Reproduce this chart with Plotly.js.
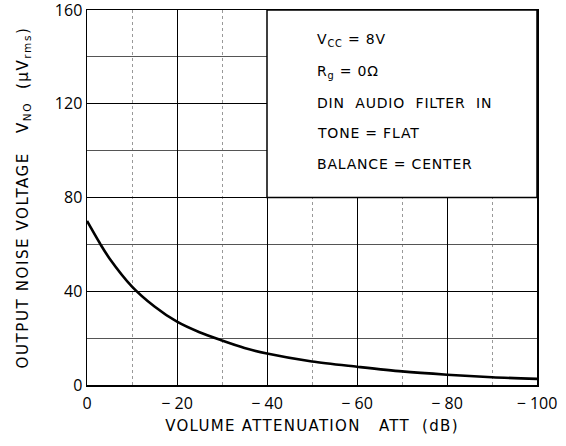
<!DOCTYPE html>
<html><head><meta charset="utf-8">
<script src="https://cdn.plot.ly/plotly-3.0.1.min.js"></script>
<style>
body{margin:0;background:#fff}#c{width:566px;height:446px}
.xtitle{letter-spacing:1.3px}
.ytitle{letter-spacing:1.6px}
.annotation-text{letter-spacing:0.8px}
</style>
</head><body><div id="c"></div>
<script>
// Volume attenuation (dB) and output noise voltage (µVrms)
const attenuation = [0, -3, -5, -10, -15, -20, -25, -30, -35, -40, -50, -60, -70, -80, -90, -100];
const noiseVoltage = [70, 60, 54, 42, 33.5, 27, 22.5, 19, 15.8, 13.4, 10, 7.8, 5.8, 4.4, 3.3, 2.6];
const xTickVals = [0, -20, -40, -60, -80, -100];
const xTickText = ["0", "− 20", "− 40", "− 60", "− 80", "− 100"];
const yTickVals = [0, 40, 80, 120, 160];
const yTickText = ["0", "40", "80", "120", "160"];
const conditions = ["V<sub>CC</sub> = 8V", "R<sub>g</sub> = 0Ω", "DIN  AUDIO  FILTER  IN", "TONE = FLAT", "BALANCE = CENTER"];
const conditionY = [0.92, 0.835, 0.752, 0.672, 0.589];

const font = "DejaVu Sans, Open Sans, sans-serif";
const tickFont = {family: "Open Sans, Liberation Sans, sans-serif", size: 16, color: "#000"};
const trace = {
  x: attenuation, y: noiseVoltage, type: "scatter", mode: "lines",
  line: {color: "#000", width: 2.6, shape: "spline", smoothing: 0.8},
  hoverinfo: "skip"
};
const layout = {
  width: 566, height: 446,
  margin: {l: 87, r: 29, t: 10, b: 61},
  paper_bgcolor: "#fff", plot_bgcolor: "#fff",
  showlegend: false,
  font: {family: font, color: "#000", size: 15},
  xaxis: {
    range: [0, -100], tickvals: xTickVals, ticktext: xTickText,
    showgrid: true, gridcolor: "#000", gridwidth: 1,
    minor: {tickvals: [-10, -30, -50, -70, -90], showgrid: true, gridcolor: "#999", gridwidth: 1, griddash: "dot"},
    showline: true, linecolor: "#000", linewidth: 1.5, mirror: true,
    zeroline: false, ticks: "outside", ticklen: 3, tickcolor: "rgba(0,0,0,0)",
    ticklabeloverflow: "allow",
    tickfont: tickFont,
    title: {text: "VOLUME ATTENUATION\u00a0\u00a0\u00a0ATT\u00a0\u00a0(dB)", font: {size: 15}, standoff: 8}
  },
  yaxis: {
    range: [0, 160], tickvals: yTickVals, ticktext: yTickText,
    showgrid: true, gridcolor: "#000", gridwidth: 1,
    minor: {tickvals: [20, 60, 100, 140], showgrid: true, gridcolor: "#555", gridwidth: 1},
    showline: true, linecolor: "#000", linewidth: 1.5, mirror: true,
    zeroline: false, ticks: "", ticklen: 0,
    ticklabeloverflow: "allow",
    tickfont: tickFont,
    title: {text: "OUTPUT NOISE VOLTAGE\u00a0\u00a0\u00a0V<sub>NO</sub>\u00a0\u00a0(μV<sub>rms</sub>)", font: {size: 15}, standoff: 22}
  },
  shapes: [{
    type: "rect", xref: "x", yref: "y", x0: -40, x1: -100, y0: 80, y1: 160,
    fillcolor: "#fff", line: {color: "#000", width: 1.5}, layer: "above"
  }],
  annotations: conditions.map((t, i) => ({
    text: t, xref: "paper", yref: "paper", x: 0.507, y: conditionY[i],
    xanchor: "left", yanchor: "middle", showarrow: false, font: {size: 14}
  }))
};
Plotly.newPlot("c", [trace], layout, {staticPlot: true, displayModeBar: false});
</script></body></html>
